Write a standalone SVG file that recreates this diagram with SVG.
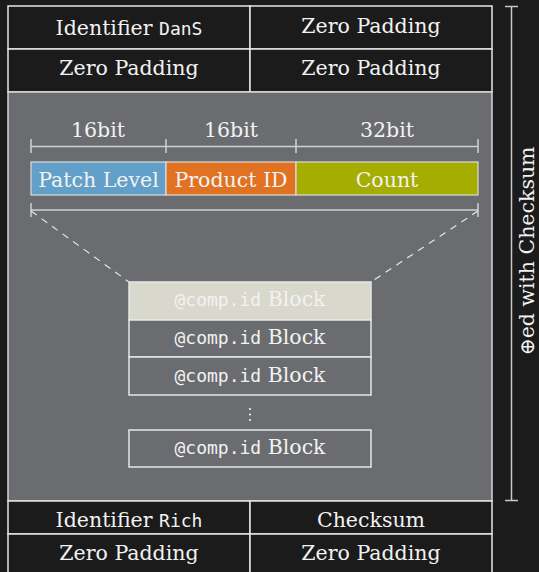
<svg xmlns="http://www.w3.org/2000/svg" width="539" height="572" viewBox="0 0 539 572">
  <style>
    .cell { fill: #1b1b1b; stroke: #e6e6e6; stroke-width: 1.5; }
    .blk { fill: #6b6c70; stroke: #e6e6e6; stroke-width: 1.5; }
    .t { font-family: "DejaVu Serif", "Liberation Serif", serif; font-size: 20.5px; fill: #f2f2f2; text-anchor: middle; }
    .m { font-family: "DejaVu Sans Mono", "Liberation Mono", monospace; font-size: 18px; }
    .dim { stroke: #d0d0d0; stroke-width: 1.5; fill: none; }
    .dash { stroke: #e6e6e6; stroke-width: 1.2; stroke-dasharray: 7 6; fill: none; }
  </style>
  <rect width="539" height="572" fill="#1b1b1b"/>

  <!-- header rows -->
  <g id="hdr-ident">
    <rect class="cell" x="8" y="6" width="242" height="43"/>
    <text class="t" x="129" y="35">Identifier <tspan class="m">DanS</tspan></text>
  </g>
  <g id="hdr-pad1">
    <rect class="cell" x="250" y="6" width="242" height="43"/>
    <text class="t" x="371" y="33">Zero Padding</text>
  </g>
  <g id="hdr-pad2">
    <rect class="cell" x="8" y="49" width="242" height="43"/>
    <text class="t" x="129" y="75">Zero Padding</text>
  </g>
  <g id="hdr-pad3">
    <rect class="cell" x="250" y="49" width="242" height="43"/>
    <text class="t" x="371" y="75">Zero Padding</text>
  </g>

  <!-- body region -->
  <g id="body">
    <rect x="8" y="92" width="484" height="409" fill="#6b6c70" stroke="#d6d6d6" stroke-width="1.5"/>
  </g>

  <!-- field widths -->
  <g id="widths">
    <text class="t" x="98" y="137">16bit</text>
    <text class="t" x="231" y="137">16bit</text>
    <text class="t" x="387" y="137">32bit</text>
  </g>

  <!-- fields of a comp.id entry -->
  <g id="field-patch">
    <rect x="31" y="162" width="135" height="33" fill="#62a0c9" stroke="#dcdcdc" stroke-width="1.2"/>
    <text class="t" x="98.5" y="187">Patch Level</text>
  </g>
  <g id="field-product">
    <rect x="166" y="162" width="130" height="33" fill="#e07222" stroke="#dcdcdc" stroke-width="1.2"/>
    <text class="t" x="231" y="187">Product ID</text>
  </g>
  <g id="field-count">
    <rect x="296" y="162" width="182" height="33" fill="#a4ad00" stroke="#dcdcdc" stroke-width="1.2"/>
    <text class="t" x="387" y="187">Count</text>
  </g>

  <!-- comp.id blocks -->
  <g id="block-1">
    <rect x="129" y="282" width="242" height="38" fill="#d9d8cc" stroke="#e6e6e6" stroke-width="1.5"/>
    <text class="t" x="250" y="306"><tspan class="m">@comp.id</tspan> Block</text>
  </g>
  <g id="block-2">
    <rect class="blk" x="129" y="320" width="242" height="37"/>
    <text class="t" x="250" y="344"><tspan class="m">@comp.id</tspan> Block</text>
  </g>
  <g id="block-3">
    <rect class="blk" x="129" y="357" width="242" height="38"/>
    <text class="t" x="250" y="382"><tspan class="m">@comp.id</tspan> Block</text>
  </g>
  <g id="ellipsis" fill="#f2f2f2">
    <circle cx="250" cy="409" r="1.1"/>
    <circle cx="250" cy="414.5" r="1.1"/>
    <circle cx="250" cy="420" r="1.1"/>
  </g>
  <g id="block-n">
    <rect class="blk" x="129" y="430" width="242" height="37"/>
    <text class="t" x="250" y="454"><tspan class="m">@comp.id</tspan> Block</text>
  </g>

  <!-- footer rows -->
  <g id="ftr-ident">
    <rect class="cell" x="8" y="501" width="242" height="33"/>
    <text class="t" x="129" y="527">Identifier <tspan class="m">Rich</tspan></text>
  </g>
  <g id="ftr-checksum">
    <rect class="cell" x="250" y="501" width="242" height="33"/>
    <text class="t" x="371" y="527">Checksum</text>
  </g>
  <g id="ftr-pad1">
    <rect class="cell" x="8" y="534" width="242" height="43"/>
    <text class="t" x="129" y="560">Zero Padding</text>
  </g>
  <g id="ftr-pad2">
    <rect class="cell" x="250" y="534" width="242" height="43"/>
    <text class="t" x="371" y="560">Zero Padding</text>
  </g>

  <!-- connectors: dimension lines, zoom lines, xor bracket -->
  <g id="connectors">
    <path class="dim" d="M31 139V153M166 139V153M296 139V153M478 139V153M31 146.5H478"/>
    <path class="dim" d="M31 203V217M478 203V217M31 210H478"/>
    <path class="dash" d="M31 211L129 282"/>
    <path class="dash" d="M478 211L371 282"/>
    <path d="M505 6.5H518M511.5 6.5V500.5M505 500.5H518" stroke="#c8c8c8" stroke-width="1.5" fill="none"/>
  </g>

  <g id="xor-label">
    <text class="t" transform="translate(534 251) rotate(-90)" x="0" y="0">⊕ed with Checksum</text>
  </g>
</svg>
